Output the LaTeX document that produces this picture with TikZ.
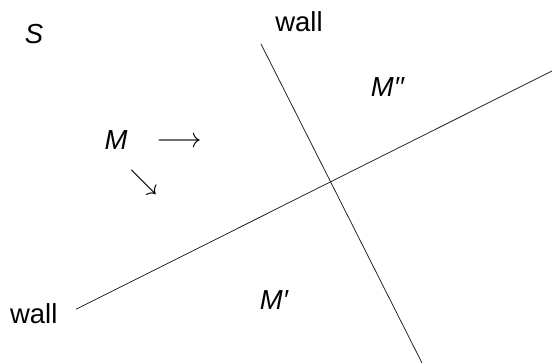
\RequirePackage{fix-cm}
\documentclass[tikz,border=0pt]{standalone}
\usepackage{fontspec}
\setmainfont{Liberation Sans}
\begin{document}
\begin{tikzpicture}[x=1pt,y=-1pt,
  lbl/.style={font=\fontsize{27.5}{32}\selectfont, inner sep=0pt, anchor=base},
  sym/.style={font=\fontsize{28}{32}\selectfont, inner sep=0pt, anchor=center},
  wallline/.style={line width=0.8pt, draw=black!85}]
\useasboundingbox (0,0) rectangle (552,363);
\coordinate (w1a) at (76,309.3);
\coordinate (w1b) at (552,71);
\coordinate (w2a) at (261,44);
\coordinate (w2b) at (422,363);
\draw[wallline] (w1a) -- (w1b);
\draw[wallline] (w2a) -- (w2b);
\node[lbl] (S) at (34,44) {\itshape S};
\node[lbl] (wtop) at (299,31.7) {wall};
\node[lbl] (wbot) at (33.7,323.3) {wall};
\node[lbl] (M) at (116,150) {\itshape M};
\node[sym] (arr) at (179,142.3) {$\longrightarrow$};
\node[sym] (sea) at (143.5,182.5) {$\searrow$};
\node[lbl] (M2) at (387.5,96.7) {\itshape M′′};
\node[lbl] (M1) at (274,309.3) {\itshape M′};
\end{tikzpicture}
\end{document}
